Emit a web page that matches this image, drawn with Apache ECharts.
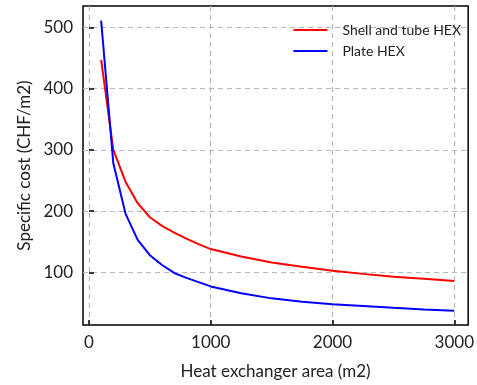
<!DOCTYPE html>
<html>
<head>
<meta charset="utf-8">
<script src="https://cdn.jsdelivr.net/npm/echarts@6/dist/echarts.min.js"></script>
<style>html,body{margin:0;padding:0;background:#fff}#c{width:477px;height:385px}</style>
</head>
<body>
<div id="c"></div>
<script>
const areas = [100, 200, 300, 400, 500, 600, 700, 800, 900, 1000, 1250, 1500, 1750, 2000, 2250, 2500, 2750, 3000];
const shellTube = [447, 300, 248, 213, 190, 176, 165, 155, 146, 138, 126, 116, 109, 102.6, 97.5, 93, 89.5, 86];
const plate = [511, 278, 196, 153, 128, 112, 99, 91, 84, 77, 66, 57.5, 52, 48, 45, 42, 39.5, 37.3];
const xTicks = [0, 1000, 2000, 3000];
const yTicks = [100, 200, 300, 400, 500];
const seriesNames = ['Shell and tube HEX', 'Plate HEX'];
const font = 'Lato';

const chart = echarts.init(document.getElementById('c'));
chart.setOption({
  animation: false,
  backgroundColor: '#fff',
  grid: {left: 83, right: 5, top: 6, bottom: 60, show: true, borderColor: '#000', borderWidth: 1.5, backgroundColor: 'transparent'},
  legend: {
    data: seriesNames, right: 11, top: 18, orient: 'vertical', itemGap: 7,
    itemWidth: 34, itemHeight: 12, icon: 'path://M0,5L34,5L34,7.2L0,7.2Z',
    textStyle: {fontFamily: font, fontSize: 14, color: '#222', padding: [0,0,0,10]}
  },
  xAxis: {
    type: 'value', min: -49, max: 3114,
    name: 'Heat exchanger area (m2)', nameLocation: 'middle', nameGap: 38,
    nameTextStyle: {fontFamily: font, fontSize: 17, color: '#222'},
    axisLine: {show: false},
    axisTick: {show: true, inside: true, length: 5, lineStyle: {color: '#000', width: 1.5}, customValues: xTicks},
    axisLabel: {fontFamily: font, fontSize: 17, color: '#222', margin: 9, customValues: xTicks, formatter: v => String(v)},
    splitLine: {show: true, lineStyle: {color: '#b8b8b8', type: [5, 4], width: 1.2}}
  },
  yAxis: {
    type: 'value', min: 14, max: 535,
    name: 'Specific cost (CHF/m2)', nameLocation: 'middle', nameGap: 50,
    nameTextStyle: {fontFamily: font, fontSize: 17, color: '#222'},
    axisLine: {show: false},
    axisTick: {show: true, inside: true, length: 5, lineStyle: {color: '#000', width: 1.5}, customValues: yTicks},
    axisLabel: {fontFamily: font, fontSize: 17, color: '#222', margin: 10, customValues: yTicks, formatter: v => String(v)},
    splitLine: {show: true, lineStyle: {color: '#b8b8b8', type: [5, 4], width: 1.2}}
  },
  series: [
    {name: seriesNames[0], type: 'line', data: areas.map((a, i) => [a, shellTube[i]]), smooth: false, showSymbol: false, lineStyle: {color: '#ff0000', width: 2}, itemStyle: {color: '#ff0000'}},
    {name: seriesNames[1], type: 'line', data: areas.map((a, i) => [a, plate[i]]), smooth: false, showSymbol: false, lineStyle: {color: '#0000ff', width: 2}, itemStyle: {color: '#0000ff'}}
  ]
});
</script>
</body>
</html>
